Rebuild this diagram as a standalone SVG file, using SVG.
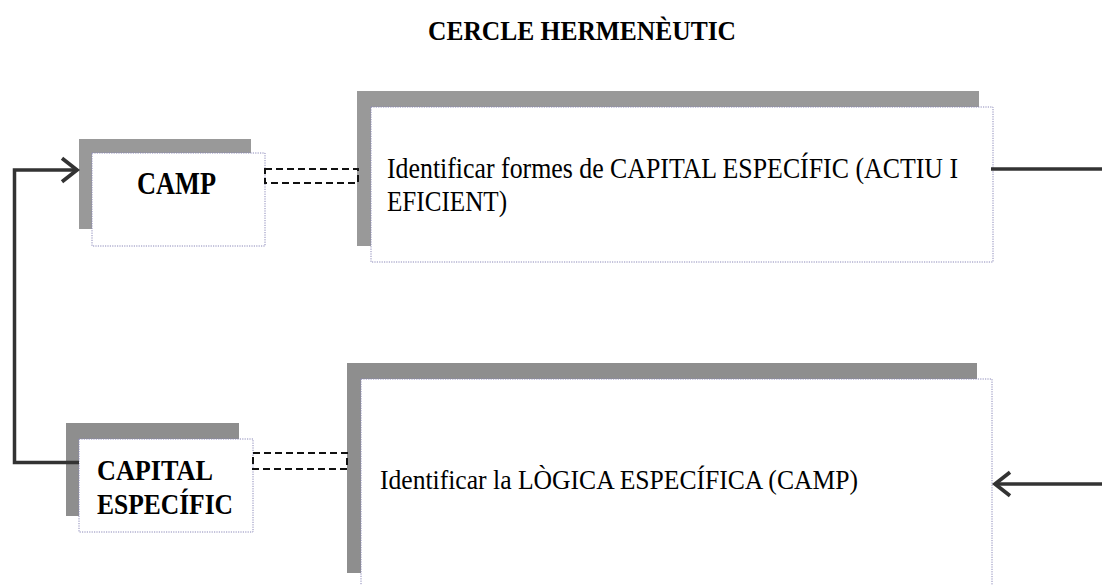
<svg xmlns="http://www.w3.org/2000/svg" width="1102" height="585" viewBox="0 0 1102 585">
<style>
.shadowA{fill:#999999;}
.shadowB{fill:#8e8e8e;}
.box{fill:#ffffff;stroke:#8a88b8;stroke-width:1;stroke-dasharray:1.2 1.2;}
.dash{fill:none;stroke:#111;stroke-width:2;stroke-dasharray:7 4;}
.conn{fill:none;stroke:#333333;stroke-width:3.5;}
.t{font-family:"Liberation Serif","Times New Roman",serif;fill:#000;}
.b{font-weight:bold;}
</style>
<defs>
<marker id="arr" markerUnits="userSpaceOnUse" markerWidth="30" markerHeight="30" refX="0" refY="0" viewBox="-18 -14 22 28" orient="auto">
<path d="M -14 -11 L 0 0 L -14 11" fill="none" stroke="#333333" stroke-width="3.5"/>
</marker>
</defs>
<text class="t b" x="428" y="40" font-size="28" textLength="308" lengthAdjust="spacingAndGlyphs">CERCLE HERMENÈUTIC</text>
<g id="camp">
<rect class="shadowA" x="79" y="139" width="172" height="90"/>
<rect class="box" x="92" y="153" width="173" height="93"/>
<text class="t b" x="137" y="194" font-size="31" textLength="79" lengthAdjust="spacingAndGlyphs">CAMP</text>
</g>
<g id="capital-actiu">
<rect class="shadowA" x="357" y="91" width="622" height="155"/>
<rect class="box" x="371" y="107" width="622" height="155"/>
<text class="t" x="387" y="178" font-size="30" textLength="571" lengthAdjust="spacingAndGlyphs">Identificar formes de CAPITAL ESPECÍFIC (ACTIU I</text>
<text class="t" x="387" y="211" font-size="30" textLength="120" lengthAdjust="spacingAndGlyphs">EFICIENT)</text>
</g>
<g id="capital-especific">
<rect class="shadowB" x="66" y="423" width="173" height="93"/>
<rect class="box" x="79" y="439" width="174" height="93"/>
<text class="t b" x="97" y="480" font-size="29" textLength="116" lengthAdjust="spacingAndGlyphs">CAPITAL</text>
<text class="t b" x="97" y="514" font-size="29" textLength="136" lengthAdjust="spacingAndGlyphs">ESPECÍFIC</text>
</g>
<g id="logica">
<rect class="shadowB" x="347" y="363" width="630" height="210"/>
<rect class="box" x="361" y="379" width="631" height="230"/>
<text class="t" x="380" y="489" font-size="28" textLength="478" lengthAdjust="spacingAndGlyphs">Identificar la LÒGICA ESPECÍFICA (CAMP)</text>
</g>
<g id="connectors">
<rect class="dash" x="265" y="169" width="93" height="14"/>
<rect class="dash" x="253" y="453" width="94" height="16"/>
<line class="conn" x1="991" y1="169" x2="1102" y2="169"/>
<line class="conn" x1="1102" y1="484" x2="995" y2="484" marker-end="url(#arr)"/>
<polyline class="conn" points="79,462.5 14.5,462.5 14.5,170 77,170" marker-end="url(#arr)"/>
</g>
</svg>
